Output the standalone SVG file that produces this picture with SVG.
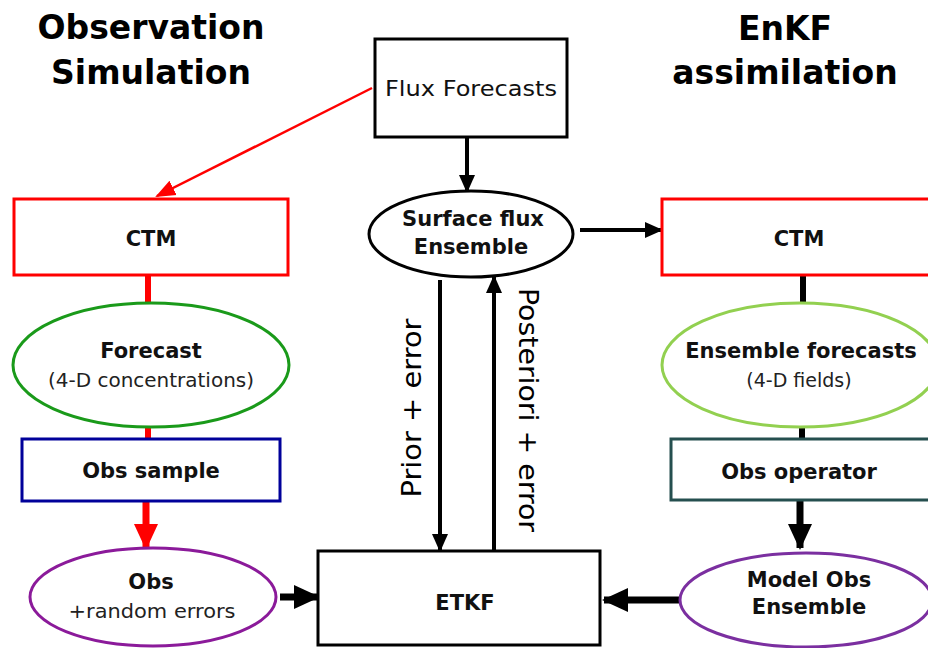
<svg xmlns="http://www.w3.org/2000/svg" width="928" height="648" viewBox="0 0 928 648">
<style>
.title{font-family:"DejaVu Sans",Verdana,sans-serif;font-weight:bold;font-size:33px;fill:#000;text-anchor:middle}
.b{font-family:"DejaVu Sans",Verdana,sans-serif;font-weight:bold;font-size:21px;fill:#111;text-anchor:middle}
.r{font-family:"DejaVu Sans",Verdana,sans-serif;font-size:19px;fill:#222;text-anchor:middle}
.lab{font-family:"DejaVu Sans",Verdana,sans-serif;font-size:26px;fill:#000;text-anchor:middle}
.box{fill:#fff;stroke-width:3}
.thin{stroke:#000;stroke-width:4;fill:none}
.thick{stroke:#000;stroke-width:7;fill:none}
</style>
<defs>
<marker id="hk" markerUnits="userSpaceOnUse" markerWidth="18" markerHeight="18" viewBox="0 0 18 18" refX="16" refY="9" orient="auto"><path d="M0,1 L18,9 L0,17 Z" fill="#000"/></marker>
<marker id="hr" markerUnits="userSpaceOnUse" markerWidth="20" markerHeight="20" viewBox="0 0 20 20" refX="18" refY="10" orient="auto"><path d="M0,2 L20,10 L0,18 Z" fill="#f00"/></marker>
<marker id="hK" markerUnits="userSpaceOnUse" markerWidth="26" markerHeight="26" viewBox="0 0 26 26" refX="24" refY="13" orient="auto"><path d="M0,1 L26,13 L0,25 Z" fill="#000"/></marker>
<marker id="hR" markerUnits="userSpaceOnUse" markerWidth="26" markerHeight="26" viewBox="0 0 26 26" refX="24" refY="13" orient="auto"><path d="M0,1 L26,13 L0,25 Z" fill="#f00"/></marker>
</defs>
<rect width="928" height="648" fill="#fff"/>
<g id="titles">
<text class="title" x="151" y="39">Observation</text>
<text class="title" x="151" y="84">Simulation</text>
<text class="title" x="785" y="40">EnKF</text>
<text class="title" x="785" y="84">assimilation</text>
</g>
<g id="connectors">
<line x1="372" y1="88" x2="157" y2="196" stroke="#f00" stroke-width="2.5" marker-end="url(#hr)"/>
<line x1="148" y1="275" x2="148" y2="304" stroke="#f00" stroke-width="6"/>
<line x1="148" y1="427" x2="148" y2="439" stroke="#f00" stroke-width="6"/>
<line x1="146" y1="501" x2="146" y2="548" stroke="#f00" stroke-width="7" marker-end="url(#hR)"/>
<line class="thin" x1="467" y1="137" x2="467" y2="191" marker-end="url(#hk)"/>
<line class="thin" x1="580" y1="230" x2="661" y2="230" marker-end="url(#hk)"/>
<line class="thin" x1="440" y1="280" x2="440" y2="550" marker-end="url(#hk)"/>
<line class="thin" x1="494" y1="550" x2="494" y2="277" marker-end="url(#hk)"/>
<line x1="803" y1="275" x2="803" y2="304" stroke="#000" stroke-width="6"/>
<line x1="802" y1="427" x2="802" y2="439" stroke="#000" stroke-width="6"/>
<line class="thick" x1="800" y1="500" x2="800" y2="548" marker-end="url(#hK)"/>
<line class="thick" x1="280" y1="597" x2="318" y2="597" marker-end="url(#hK)"/>
<line class="thick" x1="680" y1="600" x2="604" y2="600" marker-end="url(#hK)"/>
<text class="lab" transform="translate(421,408) rotate(-90)" textLength="179" lengthAdjust="spacingAndGlyphs">Prior + error</text>
<text class="lab" transform="translate(519,410) rotate(90)" textLength="244" lengthAdjust="spacingAndGlyphs">Posteriori + error</text>
</g>
<g id="flux-forecasts">
<rect class="box" x="375" y="39" width="192" height="98" stroke="#000"/>
<text x="471" y="96" font-family="DejaVu Sans, Verdana, sans-serif" font-size="22" fill="#111" text-anchor="middle" textLength="172" lengthAdjust="spacingAndGlyphs">Flux Forecasts</text>
</g>
<g id="surface-flux">
<ellipse class="box" cx="471" cy="234" rx="102" ry="43" stroke="#000"/>
<text class="b" x="473" y="226">Surface flux</text>
<text class="b" x="471" y="254">Ensemble</text>
</g>
<g id="ctm-left">
<rect class="box" x="14" y="199" width="274" height="76" stroke="#f00"/>
<text class="b" x="151" y="246" font-size="20">CTM</text>
</g>
<g id="forecast">
<ellipse class="box" cx="151" cy="365" rx="138" ry="62" stroke="#1a9a1a"/>
<text class="b" x="151" y="358">Forecast</text>
<text class="r" x="151" y="387" textLength="206" lengthAdjust="spacingAndGlyphs">(4-D concentrations)</text>
</g>
<g id="obs-sample">
<rect class="box" x="22" y="439" width="258" height="62" stroke="#00009a"/>
<text class="b" x="151" y="478">Obs sample</text>
</g>
<g id="obs">
<ellipse class="box" cx="153" cy="597" rx="123" ry="49" stroke="#8b1a9a"/>
<text class="b" x="151" y="589">Obs</text>
<text class="r" x="152" y="618" font-size="22" textLength="167" lengthAdjust="spacingAndGlyphs">+random errors</text>
</g>
<g id="etkf">
<rect class="box" x="318" y="551" width="282" height="94" stroke="#000"/>
<text class="b" x="465" y="610" font-size="19">ETKF</text>
</g>
<g id="ctm-right">
<rect class="box" x="662" y="199" width="280" height="76" stroke="#f00"/>
<text class="b" x="799" y="246" font-size="20">CTM</text>
</g>
<g id="ensemble-forecasts">
<ellipse class="box" cx="800" cy="365" rx="138" ry="62" stroke="#92d050"/>
<text class="b" x="801" y="358">Ensemble forecasts</text>
<text class="r" x="799" y="387" font-size="17">(4-D fields)</text>
</g>
<g id="obs-operator">
<rect class="box" x="671" y="439" width="262" height="61" stroke="#254f4f"/>
<text class="b" x="799" y="479" font-size="22">Obs operator</text>
</g>
<g id="model-obs">
<ellipse class="box" cx="806" cy="600" rx="126" ry="47" stroke="#7b2fa0"/>
<text class="b" x="809" y="587">Model Obs</text>
<text class="b" x="809" y="614">Ensemble</text>
</g>
</svg>
